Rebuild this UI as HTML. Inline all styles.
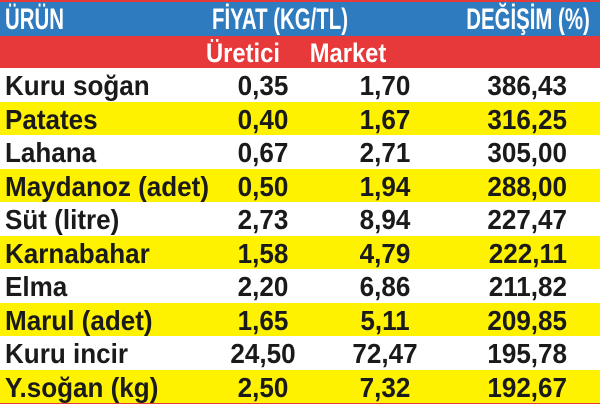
<!DOCTYPE html>
<html><head><meta charset="utf-8"><style>
body{margin:0;width:600px;height:404px;overflow:hidden;background:#e8393a;font-family:"Liberation Sans",sans-serif;font-weight:bold;}
.r{position:absolute;left:0;width:600px;}
.t{position:absolute;white-space:nowrap;line-height:1;}
.l{transform-origin:0 0;transform:scaleX(0.93);}
.c{transform-origin:0 0;transform:scaleX(0.93) translateX(-50%);}
.rt{transform-origin:0 0;transform:scaleX(0.93) translateX(-100%);}
.h{transform-origin:0 0;transform:scaleX(0.68) translateX(-50%);}
</style></head><body>
<div class="r" style="top:2px;height:34px;background:#2f7bbf"></div>
<div class="r" style="top:36px;height:32px;background:#e8393a"></div>
<div class="t" style="left:5px;top:5px;font-size:30px;color:#fff;transform-origin:0 0;transform:scaleX(0.68)">ÜRÜN</div>
<div class="t h" style="left:280px;top:5px;font-size:30px;color:#fff">FİYAT (KG/TL)</div>
<div class="t h" style="left:528px;top:5px;font-size:30px;color:#fff">DEĞİŞİM (%)</div>
<div class="t" style="left:243px;top:40px;font-size:27px;color:#fff;transform-origin:0 0;transform:scaleX(0.88) translateX(-50%)">Üretici</div>
<div class="t" style="left:348px;top:40px;font-size:27px;color:#fff;transform-origin:0 0;transform:scaleX(0.88) translateX(-50%)">Market</div>
<div id="rows"></div>
<script>
var d=[["Kuru soğan","0,35","1,70","386,43"],["Patates","0,40","1,67","316,25"],["Lahana","0,67","2,71","305,00"],["Maydanoz (adet)","0,50","1,94","288,00"],["Süt (litre)","2,73","8,94","227,47"],["Karnabahar","1,58","4,79","222,11"],["Elma","2,20","6,86","211,82"],["Marul (adet)","1,65","5,11","209,85"],["Kuru incir","24,50","72,47","195,78"],["Y.soğan (kg)","2,50","7,32","192,67"]];
var h="";d.forEach(function(r,i){var y=68+i*33.5;
h+='<div class="r" style="top:'+y+'px;height:33.5px;background:'+(i%2?'#fff200':'#fff')+'"></div>';
var ty=y+4;
h+='<div class="t l" style="left:5px;top:'+ty+'px;font-size:28px;color:#1a1a1a">'+r[0]+'</div>';
h+='<div class="t c" style="left:263px;top:'+ty+'px;font-size:28px;color:#1a1a1a">'+r[1]+'</div>';
h+='<div class="t c" style="left:385px;top:'+ty+'px;font-size:28px;color:#1a1a1a">'+r[2]+'</div>';
h+='<div class="t rt" style="left:567px;top:'+ty+'px;font-size:28px;color:#1a1a1a">'+r[3]+'</div>';});
document.getElementById("rows").innerHTML=h;
</script>
</body></html>
